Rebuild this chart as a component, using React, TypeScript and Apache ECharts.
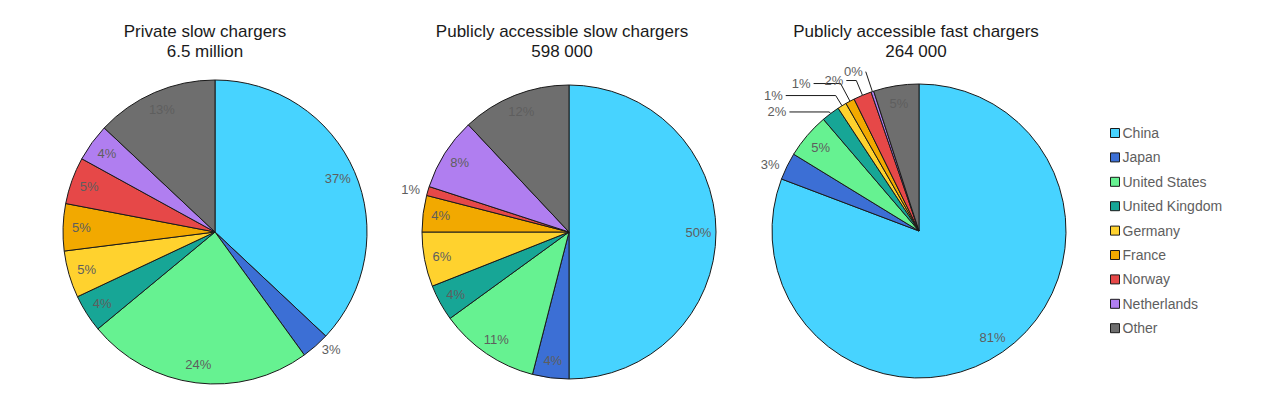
import React, { useEffect, useRef } from "react";
import * as echarts from "echarts";

const categories = [
  "China",
  "Japan",
  "United States",
  "United Kingdom",
  "Germany",
  "France",
  "Norway",
  "Netherlands",
  "Other",
];
const colors = [
  "#47d3ff",
  "#3c6fd5",
  "#66f291",
  "#17a696",
  "#ffd22e",
  "#f2a900",
  "#e64848",
  "#b07ef0",
  "#6e6e6e",
];

const privateSlow = [37, 3, 24, 4, 5, 5, 5, 4, 13];
const publicSlow = [50, 4, 11, 4, 6, 4, 1, 8, 12];
const publicFast = [81, 3, 5, 2, 1, 1, 2, 0.3, 5];

const titles = [
  "Private slow chargers\n6.5 million",
  "Publicly accessible slow chargers\n598 000",
  "Publicly accessible fast chargers\n264 000",
];

const FONT = "'Liberation Sans', Arial, sans-serif";
const LABEL_COLOR = "#5e5e5e";

// leader-line styling for the crowded slices of the fast-charger pie: [length, length2]
const fastLeaders: Record<number, [number, number]> = {
  3: [2, 40],
  4: [12, 50],
  5: [20, 27],
  6: [16, 10],
  7: [21, 0],
};

const pies = [
  { values: privateSlow, cx: 215, cy: 232, r: 152, titleX: 200, leaders: {} as Record<number, [number, number]> },
  { values: publicSlow, cx: 569, cy: 232, r: 147, titleX: 557, leaders: {} as Record<number, [number, number]> },
  { values: publicFast, cx: 919, cy: 231, r: 147, titleX: 911, leaders: fastLeaders },
];
const OUTSIDE_BELOW = 4;

const fmt = (p: any) => Math.round(p.value) + "%";

export default function App() {
  const ref = useRef<HTMLDivElement>(null);
  useEffect(() => {
    if (!ref.current) return;
    const chart = echarts.init(ref.current, undefined, { renderer: "svg" });
    const series: any[] = [];
    pies.forEach((p) => {
      series.push({
        type: "pie",
        center: [p.cx, p.cy],
        radius: p.r,
        startAngle: 90,
        clockwise: true,
        avoidLabelOverlap: false,
        minShowLabelAngle: 0,
        labelLayout: { hideOverlap: false },
        itemStyle: { borderColor: "#1a1a1a", borderWidth: 1 },
        emphasis: { disabled: true },
        label: {
          show: true,
          position: "outside",
          formatter: fmt,
          color: LABEL_COLOR,
          fontSize: 13,
          fontFamily: FONT,
          distanceToLabelLine: 3,
        },
        labelLine: {
          show: false,
          length: 5,
          length2: 0,
          maxSurfaceAngle: 180,
          lineStyle: { color: "#1a1a1a", width: 1 },
        },
        data: p.values.map((v, i) => {
          const lead = p.leaders[i];
          return {
            name: categories[i],
            value: v,
            itemStyle: { color: colors[i] },
            label: { show: v < OUTSIDE_BELOW },
            labelLine: lead
              ? { show: true, length: lead[0], length2: lead[1] }
              : { show: false },
          };
        }),
      });
      series.push({
        type: "pie",
        center: [p.cx, p.cy],
        radius: [p.r * 0.72, p.r],
        startAngle: 90,
        clockwise: true,
        silent: true,
        itemStyle: { color: "transparent", borderWidth: 0 },
        emphasis: { disabled: true },
        label: {
          show: true,
          position: "inside",
          formatter: fmt,
          color: LABEL_COLOR,
          fontSize: 13,
          fontFamily: FONT,
        },
        labelLine: { show: false },
        data: p.values.map((v, i) => ({
          name: categories[i],
          value: v,
          label: { show: v >= OUTSIDE_BELOW },
        })),
      });
    });
    chart.setOption({
      animation: false,
      backgroundColor: "#ffffff",
      title: pies.map((p, i) => ({
        text: titles[i],
        left: p.titleX,
        top: 16,
        textAlign: "center",
        textStyle: {
          fontSize: 17,
          fontWeight: "normal",
          color: "#1a1a1a",
          fontFamily: FONT,
          lineHeight: 20,
        },
      })),
      legend: {
        orient: "vertical",
        left: 1105,
        top: 121,
        itemWidth: 9,
        itemHeight: 9,
        itemGap: 10.4,
        icon: "rect",
        selectedMode: false,
        data: categories,
        itemStyle: { borderColor: "#1a1a1a", borderWidth: 1 },
        textStyle: { color: LABEL_COLOR, fontSize: 14, fontFamily: FONT, padding: [0, 0, 0, -2] },
      },
      series,
    });
    return () => chart.dispose();
  }, []);
  return (
    <div
      ref={ref}
      style={{ position: "absolute", left: 0, top: 0, width: 1280, height: 395 }}
    />
  );
}
